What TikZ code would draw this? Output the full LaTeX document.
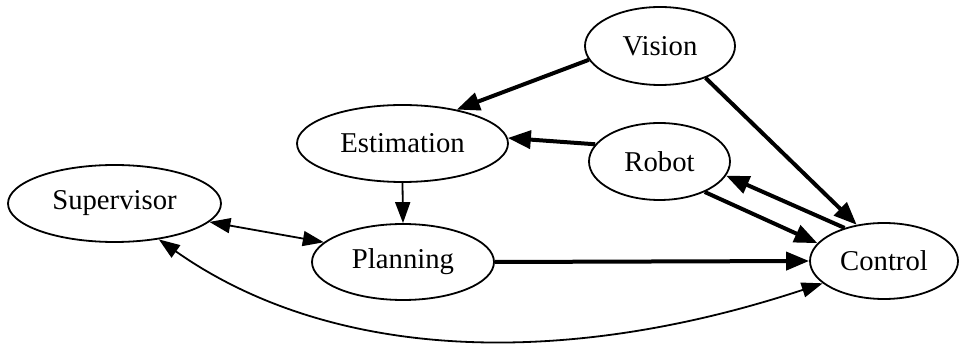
\documentclass[tikz,border=0pt]{standalone}
\usepackage{fontspec}
\setmainfont{Liberation Serif}
\usetikzlibrary{arrows.meta,shapes.geometric}
\begin{document}
\begin{tikzpicture}[x=1pt,y=-1pt,
  nd/.style={draw,ellipse,line width=1.8pt,inner sep=0pt,font=\fontsize{28.7}{34}\selectfont},
  thickedge/.style={line width=4pt,-{Triangle[length=23pt,width=18pt]}},
  thinedge/.style={line width=1.8pt,-{Triangle[length=21pt,width=15pt]}},
  thinboth/.style={line width=1.8pt,{Triangle[length=21pt,width=15pt]}-{Triangle[length=21pt,width=15pt]}}]
\useasboundingbox (0,0) rectangle (967,344);
\node[nd,minimum width=150pt,minimum height=78pt] (vision) at (660,46) {Vision};
\node[nd,minimum width=211pt,minimum height=77pt] (estimation) at (402.5,143.5) {Estimation};
\node[nd,minimum width=141pt,minimum height=77pt] (robot) at (659.5,161.5) {Robot};
\node[nd,minimum width=213pt,minimum height=77pt] (supervisor) at (114.5,203.5) {Supervisor};
\node[nd,minimum width=182pt,minimum height=76pt] (planning) at (403,262) {Planning};
\node[nd,minimum width=148pt,minimum height=76pt] (control) at (884,261) {Control};
\draw[thickedge] (vision.191) -- (estimation.32);
\draw[thickedge] (vision.325) -- (control.127);
\draw[thickedge] (robot.165) -- (estimation.3.5);
\draw[thickedge] (robot.326) -- (control.165);
\draw[thickedge] (control.140) -- (robot.348);
\draw[thickedge] (planning.east) -- (control.west);
\draw[thinedge] (estimation.270) -- (planning.90);
\draw[thinboth] (supervisor.349) -- (planning.166.5);
\draw[thinboth] (control.200) .. controls (560,370) and (330,360) .. (supervisor.321);
\end{tikzpicture}
\end{document}
